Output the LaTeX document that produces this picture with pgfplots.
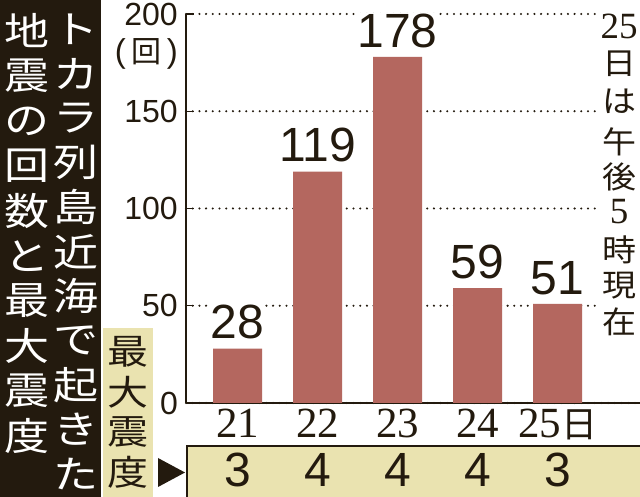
\documentclass[border=0pt]{standalone}
\usepackage{pgfplots}
\pgfplotsset{compat=1.18}
\usepackage{fontspec}
\setmainfont{Liberation Sans}
\newfontfamily\cjk{Noto Sans CJK JP}
\newfontfamily\serif{Liberation Serif}
\definecolor{ink}{HTML}{231A0E}
\definecolor{barc}{HTML}{B4675F}
\definecolor{pale}{HTML}{EAE3B0}
\begin{document}
\begin{tikzpicture}[x=1pt,y=1pt]
\useasboundingbox (0,0) rectangle (640,497);
\fill[white] (0,0) rectangle (640,497);
% left title panel
\fill[ink] (0,0) rectangle (101,497);
\foreach \c [count=\i from 0] in {地,震,の,回,数,と,最,大,震,度}
  \node[text=white, font=\cjk\fontsize{45}{45}\selectfont, yscale=0.85, inner sep=0pt] at ({27},{497-31-45*\i}) {\c};
\foreach \c [count=\i from 0] in {ト,カ,ラ,列,島,近,海,で,起,き,た}
  \node[text=white, font=\cjk\fontsize{45}{45}\selectfont, yscale=0.85, inner sep=0pt] at ({75.5},{497-29-44.5*\i}) {\c};
% label box
\fill[pale] (103,0) rectangle (153,169);
\foreach \c [count=\i from 0] in {最,大,震,度}
  \node[text=ink, font=\cjk\fontsize{41}{41}\selectfont, yscale=0.85, inner sep=0pt] at ({128},{145-40*\i}) {\c};
\fill[ink] (158,39) -- (158,10) -- (185,24.5) -- cycle;
% bottom band
\filldraw[fill=pale, draw=ink, line width=1.5pt] (187,-2) rectangle (643,51);
\begin{axis}[
  at={(186pt,94pt)}, anchor=south west, scale only axis,
  width=454pt, height=389pt,
  xmin=-0.644, xmax=5.03, ymin=0, ymax=200,
  clip=false,
  axis lines=left,
  axis line style={ink, line width=1.5pt, -},
  ytick={0,50,100,150,200},
  xtick={0,1,2,3,4},
  xticklabels={{\serif 21},{\serif 22},{\serif 23},{\serif 24},{\serif 25}{\cjk\fontsize{36}{36}\selectfont 日}},
  xtick style={draw=none},
  ytick style={ink, line width=1.2pt},
  tick align=inside, major tick length=8pt,
  ymajorgrids,
  grid style={ink, line width=2.3pt, dash pattern=on 0pt off 6.7pt, line cap=round},
  /pgf/number format/assume math mode=true,
  yticklabel style={font=\fontsize{32}{32}\selectfont, text=ink, anchor=east, inner sep=0pt, xshift=-8pt},
  xticklabel style={font=\serif\fontsize{43}{43}\selectfont, text=ink, anchor=base, yshift=-35pt},
]
\addplot[ybar, bar width=49pt, fill=barc, draw=none,
  nodes near coords,
  nodes near coords style={font=\fontsize{48}{48}\selectfont, text=ink, fill=white, inner sep=1pt, anchor=south, yshift=8pt}]
  coordinates {(0,28) (1,119) (2,178) (3,59) (4,51)};
\addplot[draw=none, mark=none, nodes near coords, point meta=explicit symbolic,
  nodes near coords style={font=\fontsize{48}{48}\selectfont, text=ink, anchor=center, inner sep=0pt}]
  coordinates {(0,-34.2) [3] (1,-34.2) [4] (2,-34.2) [4] (3,-34.2) [4] (4,-34.2) [3]};
\end{axis}
% unit label
\node[text=ink, anchor=east, inner sep=0pt, font=\fontsize{33}{33}\selectfont] at (178,443.5) {(\,{\cjk\fontsize{30}{30}\selectfont 回}\,)};
% right note
\fill[white] (597,150) rectangle (641,498);
\node[text=ink, inner sep=0pt, font=\serif\fontsize{37}{37}\selectfont] at (619,{497-26.5}) {25};
\foreach \c/\yy in {日/63.5,は/101.5,午/142,後/177}
  \node[text=ink, inner sep=0pt, font=\cjk\fontsize{34}{34}\selectfont, yscale=0.9] at (619,{497-\yy}) {\c};
\node[text=ink, inner sep=0pt, font=\serif\fontsize{37}{37}\selectfont] at (619,{497-211.5}) {5};
\foreach \c/\yy in {時/250,現/286,在/322}
  \node[text=ink, inner sep=0pt, font=\cjk\fontsize{34}{34}\selectfont, yscale=0.9] at (619,{497-\yy}) {\c};
\end{tikzpicture}
\end{document}
